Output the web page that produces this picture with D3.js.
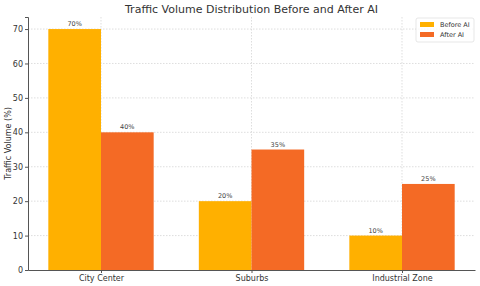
<!DOCTYPE html>
<html>
<head>
<meta charset="utf-8">
<script src="https://cdn.jsdelivr.net/npm/d3@7"></script>
<style>
  body { margin: 0; background: #fff; }
  svg { display: block; font-family: "DejaVu Sans", sans-serif; }
</style>
</head>
<body>
<svg width="480" height="286"></svg>
<script>
const categories = ["City Center", "Suburbs", "Industrial Zone"];
const beforeAI = [70, 20, 10];
const afterAI = [40, 35, 25];
const series = ["Before AI", "After AI"];
const yTicks = [0, 10, 20, 30, 40, 50, 60, 70];

const svg = d3.select("svg");
const margin = { top: 17, right: 5, bottom: 16, left: 28 };
const width = 480, height = 286;
const innerWidth = width - margin.left - margin.right;
const innerHeight = height - margin.top - margin.bottom;

const color = d3.scaleOrdinal().domain(series).range(["#FFB000", "#F46A25"]);
const barW = 0.35;

// numeric x like matplotlib: bars from -0.35 to 2.35 with 5% margin
const x = d3.scaleLinear()
  .domain([-barW - 0.135, categories.length - 1 + barW + 0.135])
  .range([0, innerWidth]);

const y = d3.scaleLinear()
  .domain([0, d3.max(beforeAI.concat(afterAI)) * 1.05])
  .range([innerHeight, 0]);

const g = svg.append("g")
  .attr("transform", `translate(${margin.left},${margin.top})`);

// grid
g.append("g").selectAll("line")
  .data(yTicks.slice(1))
  .enter().append("line")
  .attr("x1", 0).attr("x2", innerWidth)
  .attr("y1", d => y(d)).attr("y2", d => y(d))
  .attr("stroke", "#d0d0d0").attr("stroke-width", 0.7)
  .attr("stroke-dasharray", "1.5,1.5");

g.append("g").selectAll("line")
  .data(categories)
  .enter().append("line")
  .attr("x1", (d, i) => x(i)).attr("x2", (d, i) => x(i))
  .attr("y1", 0).attr("y2", innerHeight)
  .attr("stroke", "#d0d0d0").attr("stroke-width", 0.7)
  .attr("stroke-dasharray", "1.5,1.5");

// bars
const groups = [
  { name: "Before AI", values: beforeAI, offset: -barW / 2 },
  { name: "After AI", values: afterAI, offset: barW / 2 }
];

groups.forEach(s => {
  g.append("g").selectAll("rect")
    .data(s.values)
    .enter().append("rect")
    .attr("x", (d, i) => x(i + s.offset - barW / 2))
    .attr("width", x(barW) - x(0))
    .attr("y", d => y(d))
    .attr("height", d => innerHeight - y(d))
    .attr("fill", color(s.name));

  g.append("g").selectAll("text")
    .data(s.values)
    .enter().append("text")
    .attr("x", (d, i) => x(i + s.offset))
    .attr("y", d => y(d) - 3)
    .attr("text-anchor", "middle")
    .attr("font-size", 6.5)
    .attr("fill", "#444")
    .text(d => d + "%");
});

// axes
const yAxis = g.append("g")
  .call(d3.axisLeft(y).tickValues(yTicks).tickSize(3).tickPadding(2));
yAxis.select(".domain").attr("stroke", "#555").attr("stroke-width", 1);
yAxis.selectAll(".tick line").attr("stroke", "#555");
yAxis.selectAll(".tick text").attr("font-size", 8).attr("fill", "#333")
  .attr("font-family", "DejaVu Sans, sans-serif");

const xAxis = g.append("g")
  .attr("transform", `translate(0,${innerHeight})`)
  .call(d3.axisBottom(x).tickValues(d3.range(categories.length))
    .tickFormat(i => categories[i]).tickSize(3).tickSizeOuter(0).tickPadding(2));
xAxis.select(".domain").attr("stroke", "#555").attr("stroke-width", 1);
xAxis.selectAll(".tick line").attr("stroke", "#555");
xAxis.selectAll(".tick text").attr("font-size", 8).attr("fill", "#333")
  .attr("font-family", "DejaVu Sans, sans-serif");

// y label
svg.append("text")
  .attr("transform", `translate(11,${margin.top + innerHeight / 2}) rotate(-90)`)
  .attr("text-anchor", "middle")
  .attr("font-size", 8)
  .attr("fill", "#333")
  .text("Traffic Volume (%)");

// title
svg.append("text")
  .attr("x", margin.left + innerWidth / 2)
  .attr("y", 13)
  .attr("text-anchor", "middle")
  .attr("font-size", 11)
  .attr("fill", "#333")
  .text("Traffic Volume Distribution Before and After AI");

// legend
const lg = svg.append("g").attr("transform", "translate(416,18)");
lg.append("rect")
  .attr("width", 58).attr("height", 24).attr("rx", 2)
  .attr("fill", "#fff").attr("fill-opacity", 0.8)
  .attr("stroke", "#ddd").attr("stroke-width", 0.7);
series.forEach((s, i) => {
  lg.append("rect")
    .attr("x", 4).attr("y", 4 + i * 10)
    .attr("width", 14).attr("height", 5)
    .attr("fill", color(s));
  lg.append("text")
    .attr("x", 24).attr("y", 9 + i * 10)
    .attr("font-size", 6.5)
    .attr("fill", "#333")
    .text(s);
});
</script>
</body>
</html>
